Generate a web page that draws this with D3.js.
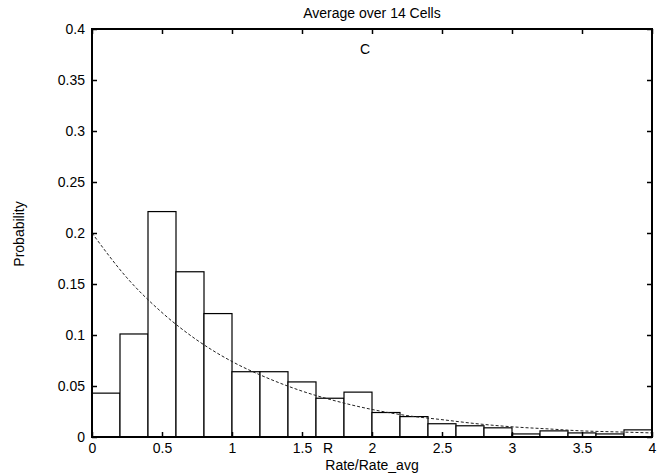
<!DOCTYPE html>
<html>
<head>
<meta charset="utf-8">
<script src="https://cdn.jsdelivr.net/npm/d3@7"></script>
<style>
  body { margin: 0; background: #fff; }
  text { font-family: "Liberation Sans", Arial, sans-serif; fill: #000; }
</style>
</head>
<body>
<svg id="drawing_region"></svg>
<script>
// histogram bins (left edges, width 0.2)
const bin_starts = [0, 0.2, 0.4, 0.6, 0.8, 1.0, 1.2, 1.4, 1.6, 1.8,
                    2.0, 2.2, 2.4, 2.6, 2.8, 3.0, 3.2, 3.4, 3.6, 3.8];
const bin_width = 0.2;
const probabilities = [0.043, 0.101, 0.221, 0.162, 0.121, 0.064, 0.064, 0.054, 0.038, 0.044,
                       0.024, 0.020, 0.013, 0.011, 0.009, 0.003, 0.006, 0.004, 0.003, 0.007];

// dashed fit curve
const fit_x = [0, 0.25, 0.5, 0.75, 1, 1.25, 1.5, 1.75, 2, 2.25, 2.5, 2.75, 3, 3.25, 3.5, 3.75, 4];
const fit_y = [0.2, 0.156, 0.122, 0.095, 0.074, 0.058, 0.045, 0.035, 0.027, 0.021,
               0.017, 0.013, 0.010, 0.008, 0.006, 0.005, 0.004];

const x_ticks = [0, 0.5, 1, 1.5, 2, 2.5, 3, 3.5, 4];
const y_ticks = [0, 0.05, 0.1, 0.15, 0.2, 0.25, 0.3, 0.35, 0.4];

const width = 666, height = 474;
const margin = {top: 29, right: 14, bottom: 37, left: 92};
const inner_width = width - margin.left - margin.right;
const inner_height = height - margin.top - margin.bottom;

const svg = d3.select('#drawing_region')
    .attr('width', width)
    .attr('height', height);

const chart = svg.append('g')
    .attr('transform', `translate(${margin.left}, ${margin.top})`);

const xscale = d3.scaleLinear().domain([0, 4]).range([0, inner_width]);
const yscale = d3.scaleLinear().domain([0, 0.4]).range([inner_height, 0]);

// bars
chart.selectAll('rect.bar')
    .data(bin_starts.map((s, i) => ({start: s, value: probabilities[i]})))
    .join('rect')
    .attr('class', 'bar')
    .attr('x', d => xscale(d.start))
    .attr('y', d => yscale(d.value))
    .attr('width', d => xscale(d.start + bin_width) - xscale(d.start))
    .attr('height', d => yscale(0) - yscale(d.value))
    .attr('fill', '#fff')
    .attr('stroke', '#000')
    .attr('stroke-width', 1.2);

// fit curve
const line = d3.line()
    .x(d => xscale(d[0]))
    .y(d => yscale(d[1]))
    .curve(d3.curveMonotoneX);

chart.append('path')
    .datum(fit_x.map((v, i) => [v, fit_y[i]]))
    .attr('d', line)
    .attr('fill', 'none')
    .attr('stroke', '#222')
    .attr('stroke-width', 1)
    .attr('stroke-dasharray', '3,2');

// axes, ticks pointing inward
const fmt = d3.format('');
const xaxis = d3.axisBottom(xscale).tickValues(x_ticks).tickFormat(fmt).tickSize(-5).tickPadding(6);
const yaxis = d3.axisLeft(yscale).tickValues(y_ticks).tickFormat(fmt).tickSize(-5).tickPadding(7);
const top_axis = d3.axisTop(xscale).tickValues(x_ticks).tickFormat('').tickSize(-5);
const right_axis = d3.axisRight(yscale).tickValues(y_ticks).tickFormat('').tickSize(-5);

const groups = [
    chart.append('g').attr('transform', `translate(0, ${inner_height})`).call(xaxis),
    chart.append('g').call(yaxis),
    chart.append('g').call(top_axis),
    chart.append('g').attr('transform', `translate(${inner_width}, 0)`).call(right_axis)
];
groups.forEach(g => {
    g.select('.domain').remove();
    g.selectAll('.tick line').attr('stroke', '#000').attr('stroke-width', 1.5);
    g.selectAll('.tick text').attr('font-size', 14).attr('font-family', '"Liberation Sans", Arial, sans-serif').attr('fill', '#000');
});

// frame
chart.append('rect')
    .attr('x', 0).attr('y', 0)
    .attr('width', inner_width).attr('height', inner_height)
    .attr('fill', 'none')
    .attr('stroke', '#000')
    .attr('stroke-width', 2);

// labels
svg.append('text')
    .attr('x', 372).attr('y', 18)
    .attr('text-anchor', 'middle')
    .attr('font-size', 14)
    .text('Average over 14 Cells');

svg.append('text')
    .attr('x', 365).attr('y', 54)
    .attr('text-anchor', 'middle')
    .attr('font-size', 14)
    .text('C');

svg.append('text')
    .attr('x', 328).attr('y', 453)
    .attr('text-anchor', 'middle')
    .attr('font-size', 14)
    .text('R');

svg.append('text')
    .attr('x', 372).attr('y', 470)
    .attr('text-anchor', 'middle')
    .attr('font-size', 14)
    .text('Rate/Rate_avg');

svg.append('text')
    .attr('transform', 'translate(24, 234) rotate(-90)')
    .attr('text-anchor', 'middle')
    .attr('font-size', 14)
    .text('Probability');
</script>
</body>
</html>
